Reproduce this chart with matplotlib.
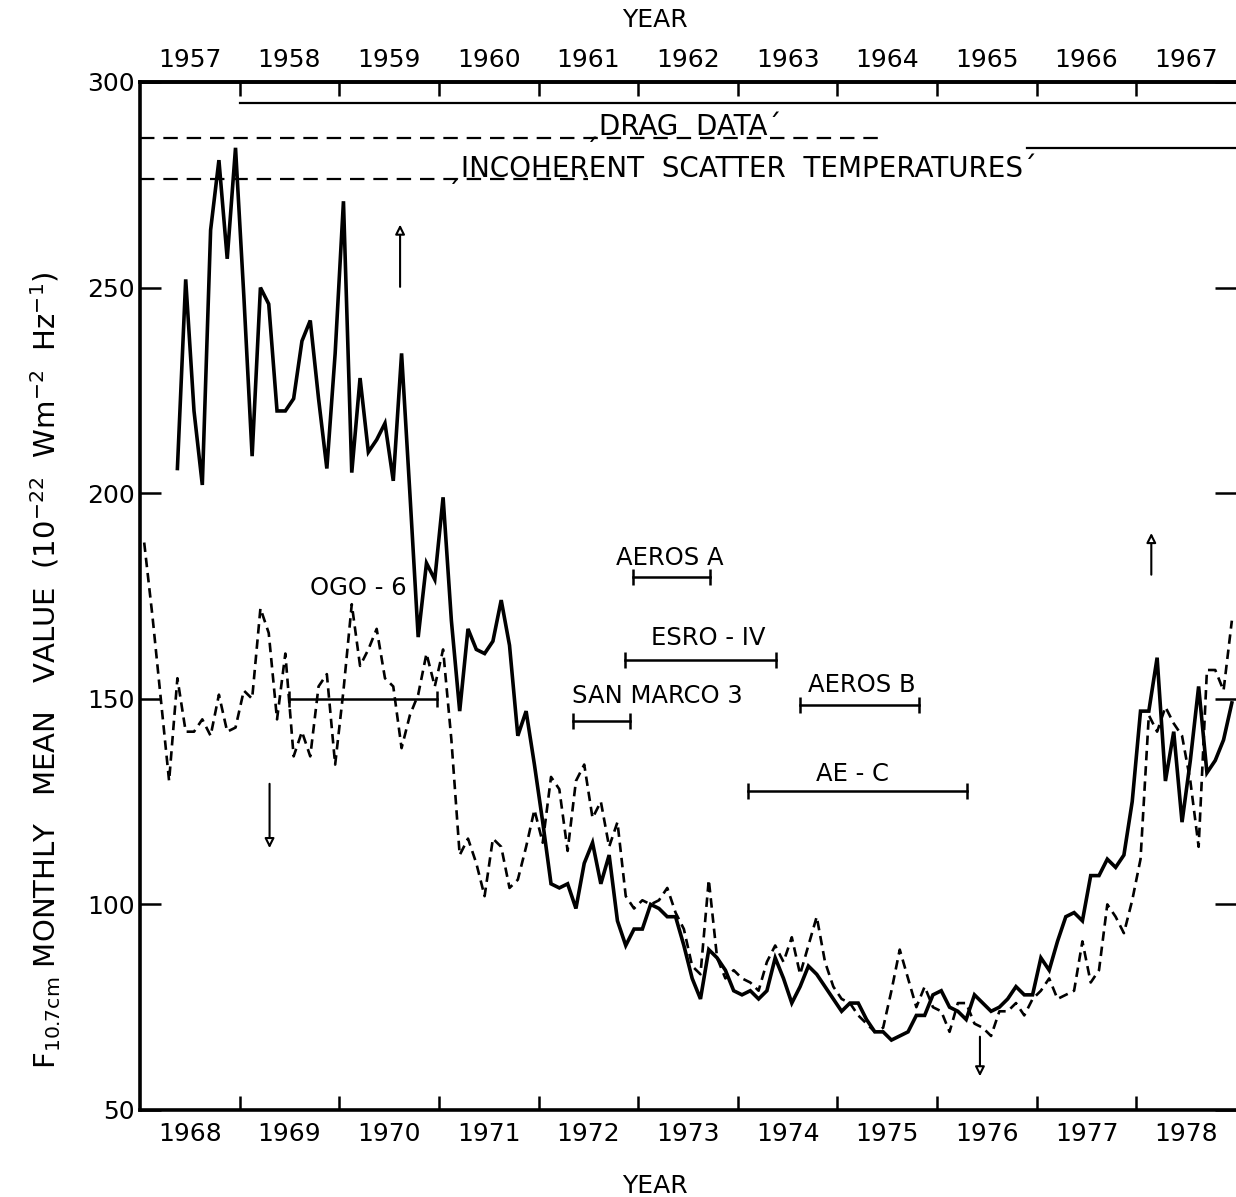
import numpy as np
import matplotlib
matplotlib.use('Agg')
import matplotlib.pyplot as plt

plt.rcParams['font.family'] = ['DejaVu Sans']

# monthly means 1968-1978 (dashed, bottom axis), Jan 1968 .. Dec 1978
f107_1968 = [188, 170, 150, 130, 155, 142, 142, 145, 141, 151, 142, 143,
             152, 150, 172, 166, 145, 161, 136, 142, 136, 153, 156, 134,
             152, 173, 158, 162, 167, 155, 153, 138, 146, 151, 161, 153,
             162, 140, 112, 116, 110, 102, 116, 114, 104, 106, 114, 123,
             115, 131, 128, 113, 130, 134, 121, 125, 114, 120, 102, 99,
             101, 100, 101, 104, 98, 94, 85, 83, 106, 87, 82, 84,
             82, 81, 79, 86, 90, 86, 92, 83, 90, 97, 86, 80,
             77, 76, 73, 71, 69, 70, 79, 89, 82, 75, 80, 75,
             74, 69, 76, 76, 71, 70, 68, 74, 74, 76, 73, 77,
             79, 82, 77, 78, 79, 91, 81, 84, 100, 97, 93, 101,
             111, 146, 142, 148, 144, 141, 130, 114, 157, 157, 152, 169]

# monthly means 1957-1967 (solid, top axis), May 1957 .. Dec 1967
f107_1957 = [206, 252, 220, 202, 264, 281, 257, 284,
             248, 209, 250, 246, 220, 220, 223, 237, 242, 223, 206, 234,
             271, 205, 228, 210, 213, 217, 203, 234, 200, 165, 183, 179,
             199, 169, 147, 167, 162, 161, 164, 174, 163, 141, 147, 134,
             120, 105, 104, 105, 99, 110, 115, 105, 112, 96, 90, 94,
             94, 100, 99, 97, 97, 90, 82, 77, 89, 87, 84, 79,
             78, 79, 77, 79, 87, 82, 76, 80, 85, 83, 80, 77,
             74, 76, 76, 72, 69, 69, 67, 68, 69, 73, 73, 78,
             79, 75, 74, 72, 78, 76, 74, 75, 77, 80, 78, 78,
             87, 84, 91, 97, 98, 96, 107, 107, 111, 109, 112, 125,
             147, 147, 160, 130, 142, 120, 135, 153, 132, 135, 140, 149]
start_1968 = 1968.0
start_1957 = 1957 + 4 / 12
offset = 11  # top axis = bottom axis - 11 years

bottom_years = ['1968', '1969', '1970', '1971', '1972', '1973',
                '1974', '1975', '1976', '1977', '1978']
top_years = ['1957', '1958', '1959', '1960', '1961', '1962',
             '1963', '1964', '1965', '1966', '1967']

# data coverage bars at the top: (y, x0, x1, style)
coverage = [(295, 1969.0, 1979.0, '-'),
            (286.5, 1968.0, 1975.45, '--'),
            (276.5, 1968.0, 1972.5, '--'),
            (284, 1976.9, 1979.0, '-')]

# satellite lifetimes
sat_names = ['OGO - 6', 'AEROS A', 'ESRO - IV', 'SAN MARCO 3', 'AEROS B', 'AE - C']
sat_start = [1969.50, 1972.95, 1972.87, 1972.35, 1974.62, 1974.10]
sat_end = [1970.98, 1973.72, 1974.38, 1972.92, 1975.82, 1976.30]
sat_level = [150, 179.5, 159.5, 144.5, 148.5, 127.5]
label_x = [1970.19, 1973.32, 1973.70, 1973.19, 1975.24, 1975.15]
label_y = [177, 184.3, 164.8, 150.7, 153.3, 131.7]

# arrows: x, y_from, y_to
arrows = [(1970.61, 249.5, 266), (1969.30, 130, 113), (1978.15, 179.5, 191), (1976.43, 68.5, 57.5)]

t68 = start_1968 + (np.arange(len(f107_1968)) + 0.5) / 12
t57 = start_1957 + (np.arange(len(f107_1957)) + 0.5) / 12

fig = plt.figure(figsize=(12.36, 11.97), dpi=100)
ax = fig.add_axes([0.1133, 0.0727, 0.8867, 0.8588])

ax.plot(t57 + offset, f107_1957, color='black', lw=2.6, solid_joinstyle='miter')
ax.plot(t68, f107_1968, color='black', lw=1.9, dashes=(3.6, 2.2))

for y, x0, x1, ls in coverage:
    if ls == '-':
        ax.plot([x0, x1], [y, y], color='black', lw=1.6)
    else:
        ax.plot([x0, x1], [y, y], color='black', lw=1.6, dashes=(6.5, 4))

ax.text(1973.45, 289.2, '\u02cfDRAG  DATA\u00b4', fontsize=20, ha='center', va='center')
ax.text(1974.04, 279.0, '\u02cfINCOHERENT  SCATTER  TEMPERATURES\u00b4', fontsize=20,
        ha='center', va='center')

for name, x0, x1, lvl, lx, ly in zip(sat_names, sat_start, sat_end, sat_level, label_x, label_y):
    ax.plot([x0, x1], [lvl, lvl], color='black', lw=1.8, marker='|', markersize=11, mew=1.8)
    ax.text(lx, ly, name, fontsize=17.5, ha='center', va='center')

for x, y0, y1 in arrows:
    ax.annotate('', xy=(x, y1), xytext=(x, y0),
                arrowprops=dict(arrowstyle='-|>', color='black', lw=1.5,
                                mutation_scale=14, fc='white'))

ax.set_xlim(1968, 1979)
ax.set_ylim(50, 300)

ax.set_xticks(np.arange(1969, 1979))
ax.set_xticklabels([])
ax.set_xticks(np.arange(1968, 1979) + 0.5, minor=True)
ax.set_xticklabels(bottom_years, minor=True)
ax.tick_params(axis='x', which='major', direction='in', length=10, width=1.8)
ax.tick_params(axis='x', which='minor', length=0, pad=9, labelsize=18)

ax.set_yticks([50, 100, 150, 200, 250, 300])
ax.tick_params(axis='y', direction='in', length=15, width=1.8, labelsize=18, pad=4,
               right=True)

sec = ax.secondary_xaxis('top', functions=(lambda x: x - offset, lambda x: x + offset))
sec.set_xticks(np.arange(1958, 1968))
sec.set_xticklabels([])
sec.set_xticks(np.arange(1957, 1968) + 0.5, minor=True)
sec.set_xticklabels(top_years, minor=True)
sec.tick_params(axis='x', which='major', direction='in', length=10, width=1.8)
sec.tick_params(axis='x', which='minor', length=0, pad=7, labelsize=18)
sec.spines['top'].set_linewidth(2.6)

for side in ['left', 'bottom', 'top']:
    ax.spines[side].set_linewidth(2.6)
ax.spines['right'].set_visible(False)

fig.text(655 / 1236, 1 - 20 / 1197, 'YEAR', fontsize=18, ha='center', va='center')
ax.set_xlabel('YEAR', fontsize=18)
ax.xaxis.set_label_coords(0.47, -0.062)
ax.set_ylabel(r'F$_{\mathrm{10.7cm}}$ MONTHLY   MEAN   VALUE  (10$^{-22}$  Wm$^{-2}$  Hz$^{-1}$)',
              fontsize=21)
ax.yaxis.set_label_coords(-0.07, 0.428)

fig.savefig('out.png', dpi=100)
